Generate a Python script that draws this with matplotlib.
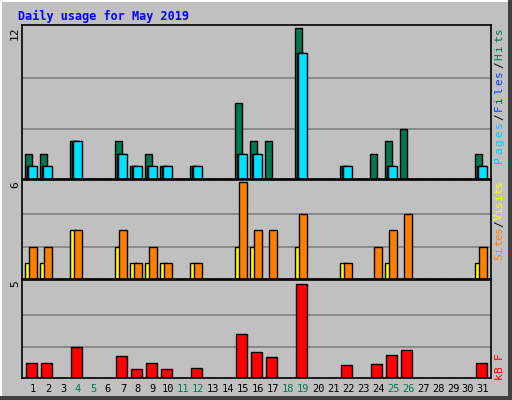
import numpy as np
import matplotlib.pyplot as plt

days = np.arange(1, 32)
weekend = [4, 5, 11, 12, 18, 19, 25, 26]

hits = np.zeros(31); files = np.zeros(31); pages = np.zeros(31)
sites = np.zeros(31); visits = np.zeros(31); kb = np.zeros(31)

hit_vals = {1: 2, 2: 2, 4: 3, 7: 3, 8: 1, 9: 2, 10: 1, 12: 1, 15: 6, 16: 3, 17: 3,
            19: 12, 22: 1, 24: 2, 25: 3, 26: 4, 31: 2}
page_vals = {1: 1, 2: 1, 4: 3, 7: 2, 8: 1, 9: 1, 10: 1, 12: 1, 15: 2, 16: 2,
             19: 10, 22: 1, 25: 1, 31: 1}
visit_vals = {1: 2, 2: 2, 4: 3, 7: 3, 8: 1, 9: 2, 10: 1, 12: 1, 15: 6, 16: 3, 17: 3,
              19: 4, 22: 1, 24: 2, 25: 3, 26: 4, 31: 2}
site_vals = {1: 1, 2: 1, 4: 3, 7: 2, 8: 1, 9: 1, 10: 1, 12: 1, 15: 2, 16: 2,
             19: 2, 22: 1, 25: 1, 31: 1}
kb_vals = {1: 0.78, 2: 0.78, 4: 1.66, 7: 1.17, 8: 0.46, 9: 0.78, 10: 0.46, 12: 0.51,
           15: 2.32, 16: 1.39, 17: 1.11, 19: 5.0, 22: 0.68, 24: 0.73, 25: 1.22,
           26: 1.50, 31: 0.78}
for d, v in hit_vals.items(): hits[d - 1] = v
for d, v in page_vals.items(): pages[d - 1] = v; files[d - 1] = v
for d, v in visit_vals.items(): visits[d - 1] = v
for d, v in site_vals.items(): sites[d - 1] = v
for d, v in kb_vals.items(): kb[d - 1] = v

mono = 'DejaVu Sans Mono'
W, H = 512, 400
fig = plt.figure(figsize=(W / 100, H / 100), dpi=100)
fig.patch.set_facecolor('#808080')
# bevelled frame: white top/left, dark bottom/right
fig.add_artist(plt.Rectangle((0, 0), 1, 1, transform=fig.transFigure,
                             facecolor='#404040', edgecolor='none', zorder=-4))
fig.add_artist(plt.Rectangle((0, 4 / H), 508 / W, 396 / H, transform=fig.transFigure,
                             facecolor='white', edgecolor='none', zorder=-3))
fig.add_artist(plt.Rectangle((2 / W, 4 / H), 506 / W, 394 / H, transform=fig.transFigure,
                             facecolor='#c0c0c0', edgecolor='none', zorder=-2))
fig.text(18 / W, 1 - 16 / H, 'Daily usage for May 2019', color='#0000ff', fontsize=8.5,
         fontweight='bold', family=mono, va='center')

def panel(y0, y1):
    ax = fig.add_axes([22 / W, 1 - y1 / H, 469 / W, (y1 - y0) / H])
    ax.set_facecolor('#c0c0c0')
    ax.set_xlim(0.27, 31.53)
    ax.set_xticks([]); ax.set_yticks([])
    for s in ax.spines.values():
        s.set_linewidth(1.2)
    return ax

ec = dict(edgecolor='black', linewidth=1, align='edge')

ax1 = panel(25, 179)
ax1.set_ylim(0, 12.2)
for g in [4, 8]:
    ax1.axhline(g, color='#808080', lw=1.2, zorder=0)
ax1.bar(days - 0.53, hits, 0.48, color='#007850', **ec)
ax1.bar(days - 0.4, files, 0.5, color='#0040ff', **ec)
ax1.bar(days - 0.33, pages, 0.6, color='#00e0ff', **ec)

ax2 = panel(180, 279)
ax2.set_ylim(0, 6.1)
for g in [2, 4]:
    ax2.axhline(g, color='#808080', lw=1.2, zorder=0)
ax2.bar(days - 0.53, sites, 0.45, color='#ffff00', **ec)
ax2.bar(days - 0.27, visits, 0.53, color='#ff8000', **ec)

ax3 = panel(280, 378)
ax3.set_ylim(0, 5.2)
for g in [5 / 3, 10 / 3]:
    ax3.axhline(g, color='#808080', lw=1.2, zorder=0)
ax3.bar(days - 0.47, kb, 0.72, color='#ff0000', **ec)

for d in days:
    fig.text((22 + (d - 0.27) * 469 / 31.26) / W, 1 - 389 / H, str(d), ha='center',
             va='center', fontsize=7.5, family=mono,
             color='#007850' if d in weekend else 'black')

for label, y in [('12', 33), ('6', 185), ('5', 284)]:
    fig.text(15 / W, 1 - y / H, label, rotation=90, ha='center', va='center',
             fontsize=8, family=mono)

def vlabel(parts, ycenter, ch):
    # rotated, multi-coloured label on the right side
    total = sum(len(p[0]) for p in parts)
    y = ycenter + total * ch / 2
    for txt, col in parts:
        for c in txt:
            fig.text(499 / W, 1 - (y - ch / 2) / H, c, rotation=90, ha='center', va='center',
                     fontsize=8, family=mono, color=col)
            y -= ch

vlabel([('Pages', '#00c8ff'), ('/', 'black'), ('Files', '#0040ff'), ('/', 'black'),
        ('Hits', '#007850')], 95, 8.6)
vlabel([('Sites', '#ff8000'), ('/', 'black'), ('Visits', '#ffff00')], 220, 6.6)
vlabel([('kB', '#ff0000'), (' ', 'black'), ('F', '#ff0000')], 366, 6.6)

fig.savefig('out.png', dpi=100, facecolor=fig.get_facecolor())
